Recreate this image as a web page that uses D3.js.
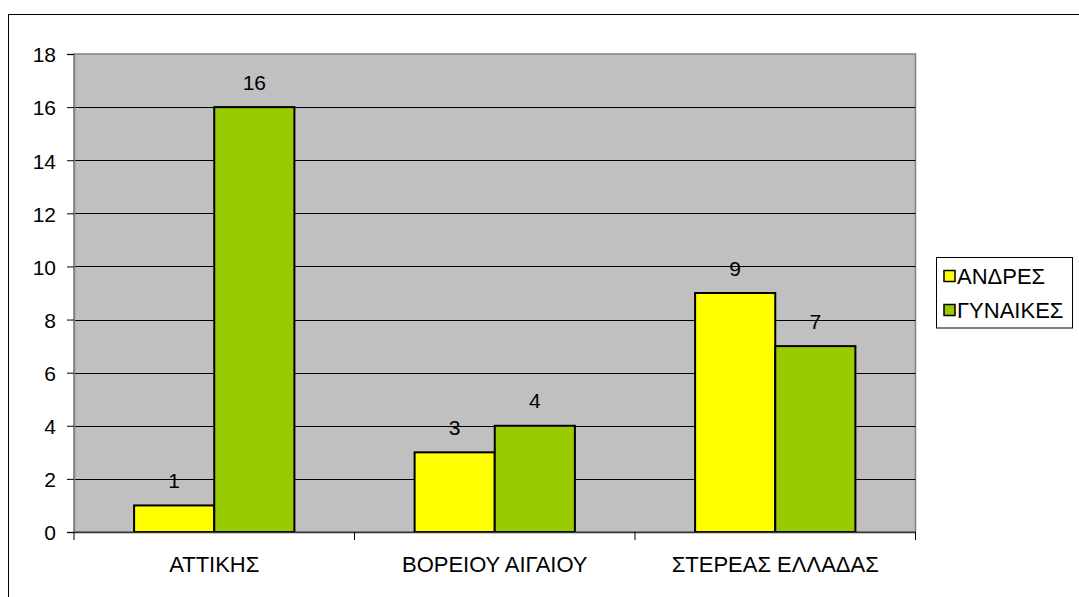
<!DOCTYPE html>
<html>
<head>
<meta charset="utf-8">
<script src="https://cdn.jsdelivr.net/npm/d3@7/dist/d3.min.js"></script>
<style>
  body { margin: 0; background: #fff; }
  text { font-family: "Liberation Sans", Arial, sans-serif; fill: #000; }
</style>
</head>
<body>
<div id="chart"></div>
<script>
"use strict"

// chart data
let regions = ["ΑΤΤΙΚΗΣ", "ΒΟΡΕΙΟΥ ΑΙΓΑΙΟΥ", "ΣΤΕΡΕΑΣ ΕΛΛΑΔΑΣ"];
let seriesNames = ["ΑΝΔΡΕΣ", "ΓΥΝΑΙΚΕΣ"];
let men = [1, 3, 9];
let women = [16, 4, 7];
let yTicks = [0, 2, 4, 6, 8, 10, 12, 14, 16, 18];
let colors = ["#ffff00", "#99cc00"];

let width = 1079, height = 597;
let plot = { left: 74, top: 54, right: 915.5, bottom: 532 };

let svg = d3.select("#chart").append("svg")
    .attr("width", width)
    .attr("height", height);

// outer chart border
svg.append("rect")
    .attr("x", 8.5).attr("y", 14.5)
    .attr("width", 1080).attr("height", 600)
    .attr("fill", "#fff").attr("stroke", "#000");

let x0 = d3.scaleBand()
    .domain(regions)
    .range([plot.left, plot.right]);

// bars take 2 of 3.5 slots of each category (gap width 75%)
let x1 = d3.scaleBand()
    .domain(seriesNames)
    .range([x0.bandwidth() * 0.75 / 3.5, x0.bandwidth() * 2.75 / 3.5]);

let y = d3.scaleLinear().domain([0, 18]).range([plot.bottom, plot.top]);

// plot area
svg.append("rect")
    .attr("x", plot.left).attr("y", plot.top)
    .attr("width", plot.right - plot.left).attr("height", plot.bottom - plot.top)
    .attr("fill", "#c0c0c0").attr("stroke", "#808080").attr("stroke-width", 1.5);

// gridlines
svg.append("g")
    .selectAll("line")
    .data(yTicks.filter(d => d > 0 && d < 18))
    .enter()
    .append("line")
    .attr("x1", plot.left).attr("x2", plot.right)
    .attr("y1", d => Math.round(y(d)) + 0.5).attr("y2", d => Math.round(y(d)) + 0.5)
    .attr("stroke", "#000");

// y axis
let yAxis = svg.append("g")
    .attr("transform", "translate(" + plot.left + ",0)")
    .call(d3.axisLeft(y).tickValues(yTicks).tickSize(7).tickPadding(11));
yAxis.select(".domain").attr("stroke", "#808080").attr("stroke-width", 1.5);
yAxis.selectAll(".tick line").attr("stroke", "#000");
yAxis.selectAll("text").style("font-size", "21px").attr("dy", "0.37em").attr("font-family", null);

// bars
let data = [men, women];
let groups = svg.append("g")
    .selectAll("g")
    .data(regions)
    .enter()
    .append("g")
    .attr("transform", d => "translate(" + x0(d) + ",0)");

groups.selectAll("rect")
    .data((d, i) => seriesNames.map((s, j) => ({ key: s, value: data[j][i] })))
    .enter()
    .append("rect")
    .attr("x", d => x1(d.key))
    .attr("y", d => y(d.value))
    .attr("width", x1.bandwidth())
    .attr("height", d => y(0) - y(d.value))
    .attr("fill", (d, j) => colors[j])
    .attr("stroke", "#000")
    .attr("stroke-width", 2);

groups.selectAll("text")
    .data((d, i) => seriesNames.map((s, j) => ({ key: s, value: data[j][i] })))
    .enter()
    .append("text")
    .attr("x", d => x1(d.key) + x1.bandwidth() / 2)
    .attr("y", d => y(d.value) - 17.5)
    .attr("text-anchor", "middle")
    .style("font-size", "21px")
    .text(d => d.value);

// x axis
let xAxis = svg.append("g")
    .attr("transform", "translate(0," + plot.bottom + ")")
    .call(d3.axisBottom(x0).tickSize(0).tickPadding(24));
xAxis.select(".domain").attr("stroke", "#333").attr("stroke-width", 1.5);
xAxis.selectAll("text")
    .style("font-size", "22px")
    .attr("font-family", null);
xAxis.selectAll(".sep")
    .data(regions.map(d => x0(d)).concat([plot.right]))
    .enter()
    .append("line")
    .attr("x1", d => d).attr("x2", d => d)
    .attr("y1", 0).attr("y2", 8)
    .attr("stroke", "#000");

// legend
let legend = svg.append("g");
legend.append("rect")
    .attr("x", 936.5).attr("y", 257.5)
    .attr("width", 136).attr("height", 70.5)
    .attr("fill", "#fff").attr("stroke", "#000");
let items = legend.selectAll(".item")
    .data(seriesNames)
    .enter()
    .append("g")
    .attr("transform", (d, i) => "translate(943," + (270 + i * 34) + ")");
items.append("rect")
    .attr("x", 1).attr("y", 0.5)
    .attr("width", 11).attr("height", 11)
    .attr("fill", (d, i) => colors[i])
    .attr("stroke", "#000")
    .attr("stroke-width", 1.5);
items.append("text")
    .attr("x", 14).attr("y", 14)
    .style("font-size", "22px")
    .text(d => d);
</script>
</body>
</html>
